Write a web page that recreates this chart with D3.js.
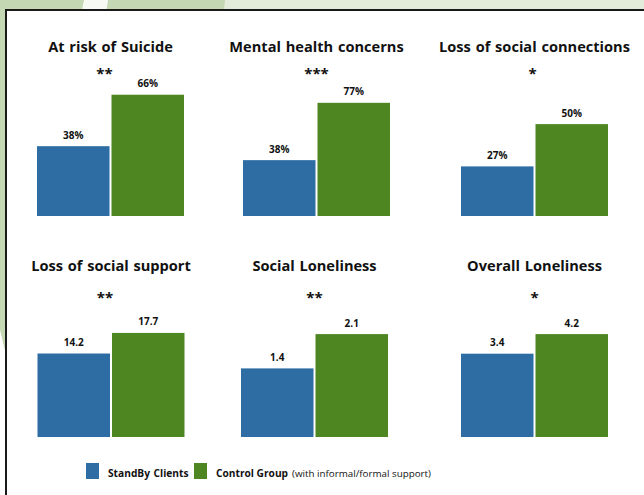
<!DOCTYPE html>
<html><head><meta charset="utf-8">
<script src="https://cdn.jsdelivr.net/npm/d3@7"></script>
<style>html,body{margin:0;padding:0;background:#fff;}svg{display:block;}</style>
</head><body>
<script>
// ---- data ----
const panels = ["At risk of Suicide","Mental health concerns","Loss of social connections",
                "Loss of social support","Social Loneliness","Overall Loneliness"];
const groups = ["StandBy Clients","Control Group"];
const standby = [38, 38, 27, 14.2, 1.4, 3.4];
const control = [66, 77, 50, 17.7, 2.1, 4.2];
const significance = ["**","***","*","**","**","*"];
const axisMax = [80, 100, 80, 25, 3, 6];
const valueSuffix = ["%","%","%","","",""];
const valueDecimals = [0,0,0,1,1,1];

// ---- layout ----
const W = 644, H = 495;
const centers = [110.5, 316.5, 534.5, 111, 314.5, 534.5];
const starDx = [-6, 0, -2, -6, 0, 0];
const rowBase = [216, 437];
const titleY = [52, 271];
const starY = [78.5, 303];
const plotH = 147, groupW = 147;
const colors = {"StandBy Clients":"#2e6da4","Control Group":"#4e8622"};
const font = "'Open Sans', 'Noto Sans', sans-serif";

const svg = d3.select("body").append("svg").attr("width", W).attr("height", H);

// background decoration
svg.append("rect").attr("width", W).attr("height", H).attr("fill", "#e3ecda");
svg.append("polygon").attr("points", "0,0 225,0 170,495 0,495").attr("fill", "#c5d8b4");
svg.append("polygon").attr("points", "84,0 108,0 40,495 0,495 0,420").attr("fill", "#ffffff").attr("opacity", 0.85);
svg.append("polygon").attr("points", "0,330 40,495 0,495").attr("fill", "#ffffff");
// frame
svg.append("rect").attr("x", 6).attr("y", 10).attr("width", 800).attr("height", 700)
  .attr("fill", "#fff").attr("stroke", "#1a1a1a").attr("stroke-width", 2);

panels.forEach((title, i) => {
  const row = Math.floor(i / 3);
  const cx = centers[i];
  const base = rowBase[row];
  const g = svg.append("g");
  const x = d3.scaleBand().domain(groups).range([cx - groupW/2, cx + groupW/2])
    .paddingInner(2/74.5).paddingOuter(0);
  const y = d3.scaleLinear().domain([0, axisMax[i]]).range([base, base - plotH]);
  const vals = [{k: groups[0], v: standby[i]}, {k: groups[1], v: control[i]}];
  const fmt = d3.format("." + valueDecimals[i] + "f");

  g.append("text").attr("x", cx).attr("y", titleY[row]).attr("text-anchor", "middle")
    .attr("font-family", font).attr("font-weight", 700).attr("font-size", 14.6)
    .attr("fill", "#111").attr("word-spacing", 1).text(title);
  g.append("text").attr("x", cx + starDx[i]).attr("y", starY[row]).attr("text-anchor", "middle")
    .attr("font-family", font).attr("font-weight", 700).attr("font-size", 15)
    .attr("fill", "#111").text(significance[i]);

  g.selectAll("rect.bar").data(vals).join("rect").attr("class", "bar")
    .attr("x", d => x(d.k)).attr("width", x.bandwidth())
    .attr("y", d => y(d.v)).attr("height", d => base - y(d.v))
    .attr("fill", d => colors[d.k]);
  g.selectAll("text.val").data(vals).join("text").attr("class", "val")
    .attr("x", d => x(d.k) + x.bandwidth()/2).attr("y", d => y(d.v) - 7.5)
    .attr("text-anchor", "middle").attr("font-family", font).attr("font-weight", 700)
    .attr("font-size", 10).attr("fill", "#111")
    .text(d => fmt(d.v) + valueSuffix[i]);
});

// legend
const lg = svg.append("g").attr("font-family", font).attr("fill", "#111");
lg.append("rect").attr("x", 86).attr("y", 463).attr("width", 13).attr("height", 16).attr("fill", colors[groups[0]]);
lg.append("text").attr("x", 108).attr("y", 476.5).attr("font-weight", 700).attr("font-size", 10.2)
  .attr("word-spacing", 1).text(groups[0]);
lg.append("rect").attr("x", 194).attr("y", 463).attr("width", 13).attr("height", 16).attr("fill", colors[groups[1]]);
lg.append("text").attr("x", 216).attr("y", 476.5).attr("font-weight", 700).attr("font-size", 10.2)
  .text(groups[1]);
lg.append("text").attr("x", 292).attr("y", 476.5).attr("font-weight", 400).attr("font-size", 9.8)
  .text("(with informal/formal support)");
</script>
</body></html>
